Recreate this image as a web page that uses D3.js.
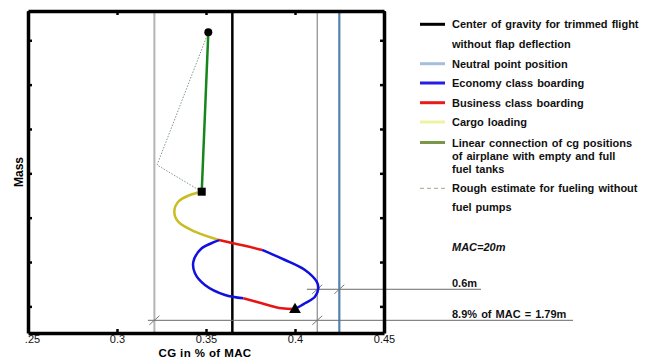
<!DOCTYPE html>
<html>
<head>
<meta charset="utf-8">
<script src="https://cdn.jsdelivr.net/npm/d3@7"></script>
<style>
  body { margin: 0; background: #fff; }
  svg { display: block; font-family: "Liberation Sans", Arial, sans-serif; }
  .lg { font-size: 11px; font-weight: bold; fill: #111; word-spacing: 1px; }
</style>
</head>
<body>
<script>
// values (cg as fraction of MAC, mass in t)
var cgTicks = [0.25, 0.3, 0.35, 0.4, 0.45];
var massTicks = [40, 45, 50, 55, 60, 65, 70];

var fwdCg = 0.321;      // light grey limit
var trimCg = 0.3648;    // cg for trimmed flight
var aftCg = 0.4125;     // thin grey limit
var neutralCg = 0.4249; // neutral point

var cargoLoading = [[0.3476, 52.93], [0.3410, 52.56], [0.3344, 51.80], [0.3322, 50.68], [0.3344, 49.55], [0.3438, 48.42], [0.3573, 47.48]];
var businessUpper = [[0.3573, 47.48], [0.3646, 47.15], [0.3725, 46.81], [0.3815, 46.36]];
var economyUpper = [[0.3815, 46.36], [0.3944, 45.23], [0.4056, 44.10], [0.4122, 42.78], [0.4131, 42.04], [0.4112, 41.09], [0.4056, 40.35], [0.4000, 39.70]];
var economyLower = [[0.3573, 47.48], [0.3551, 47.29], [0.3476, 46.55], [0.3429, 45.04], [0.3438, 43.73], [0.3494, 42.41], [0.3607, 41.28], [0.3710, 40.91]];
var businessLower = [[0.3710, 40.91], [0.3813, 40.35], [0.3925, 39.78], [0.4000, 39.70]];

var fuelLine = [[0.3476, 52.93], [0.3513, 70.9]];
var fuelEstimate = [[0.3513, 70.9], [0.3225, 55.94], [0.3476, 52.93]];

var emptyPoint = [0.4000, 39.70];
var zeroFuelPoint = [0.3476, 52.93];
var fullPoint = [0.3513, 70.9];

// dimension lines: mass level, from cg, to cg, tick marks
var dimShort = [41.93, 0.4067, 0.5045];
var dimShortTicks = [aftCg, neutralCg];
var dimLong = [38.43, 0.3174, 0.5562];
var dimLongTicks = [fwdCg, aftCg];

var legendLabels = [
    ["Center of gravity for trimmed flight", "without flap deflection"],
    ["Neutral point position"],
    ["Economy class boarding"],
    ["Business class boarding"],
    ["Cargo loading"],
    ["Linear connection of cg positions", "of airplane  with empty and full", "fuel tanks"],
    ["Rough estimate for fueling without", "fuel pumps"]
];
var noteLabels = ["MAC=20m", "0.6m", "8.9% of MAC = 1.79m"];

window.onload = function() {
    draw();
};

function draw() {
    var svg = d3.select("body").append("svg").attr("width", 651).attr("height", 359);

    var margin = {top: 11, left: 28};
    var w = 356, h = 322;

    var x = d3.scaleLinear().domain([0.25, 0.45]).range([margin.left, margin.left + w]);
    var y = d3.scaleLinear().domain([37, 73.3]).range([margin.top + h, margin.top]);

    var line = d3.line()
        .x(function(d) { return x(d[0]); })
        .y(function(d) { return y(d[1]); })
        .curve(d3.curveCatmullRom.alpha(0.5));
    var straight = d3.line()
        .x(function(d) { return x(d[0]); })
        .y(function(d) { return y(d[1]); });

    // reference verticals
    function vline(cg, col, sw) {
        svg.append("line")
            .attr("x1", x(cg)).attr("x2", x(cg))
            .attr("y1", margin.top).attr("y2", margin.top + h)
            .attr("stroke", col).attr("stroke-width", sw);
    }
    vline(fwdCg, "#b4b4b4", 2);
    vline(aftCg, "#8a8a8a", 1.2);
    vline(neutralCg, "#5282b0", 2.2);
    vline(trimCg, "#000", 2.5);

    // dimension lines
    function dim(d, ticks) {
        svg.append("line")
            .attr("x1", x(d[1])).attr("x2", x(d[2]))
            .attr("y1", y(d[0])).attr("y2", y(d[0]))
            .attr("stroke", "#6a6a6a").attr("stroke-width", 1);
        ticks.forEach(function(t) {
            svg.append("line")
                .attr("x1", x(t) - 5).attr("x2", x(t) + 5)
                .attr("y1", y(d[0]) + 4.5).attr("y2", y(d[0]) - 4.5)
                .attr("stroke", "#7a7a7a").attr("stroke-width", 1);
        });
    }
    dim(dimShort, dimShortTicks);
    dim(dimLong, dimLongTicks);

    // fuel estimate + fuel line
    svg.append("path").attr("d", straight(fuelEstimate))
        .attr("fill", "none").attr("stroke", "#7f9a80").attr("stroke-width", 1)
        .attr("stroke-dasharray", "1.5,1.5");
    svg.append("path").attr("d", straight(fuelLine))
        .attr("fill", "none").attr("stroke", "#17861a").attr("stroke-width", 2.5);

    // loading curves
    var curves = [
        [cargoLoading, "#c9bd22"],
        [economyUpper, "#1010e0"],
        [businessUpper, "#e81414"],
        [economyLower, "#1010e0"],
        [businessLower, "#e81414"]
    ];
    curves.forEach(function(c) {
        svg.append("path").attr("d", line(c[0]))
            .attr("fill", "none").attr("stroke", c[1]).attr("stroke-width", 2.5);
    });

    // markers
    svg.append("circle").attr("cx", x(fullPoint[0])).attr("cy", y(fullPoint[1])).attr("r", 4).attr("fill", "#000");
    svg.append("rect").attr("x", x(zeroFuelPoint[0]) - 4).attr("y", y(zeroFuelPoint[1]) - 4)
        .attr("width", 8).attr("height", 8).attr("fill", "#000");
    svg.append("path")
        .attr("d", d3.symbol().type(d3.symbolTriangle).size(60)())
        .attr("transform", "translate(" + x(emptyPoint[0]) + "," + (y(emptyPoint[1]) + 0.5) + ")")
        .attr("fill", "#000");

    // axes (frame with inner ticks)
    var ax = [
        d3.axisBottom(x).tickValues(cgTicks).tickSize(-4).tickSizeOuter(0).tickPadding(2)
            .tickFormat(function(d) { return d === 0.25 ? ".25" : d; }),
        d3.axisTop(x).tickValues(cgTicks).tickSize(-4).tickSizeOuter(0).tickFormat(""),
        d3.axisLeft(y).tickValues(massTicks).tickSize(-4).tickSizeOuter(0).tickFormat(""),
        d3.axisRight(y).tickValues(massTicks).tickSize(-4).tickSizeOuter(0).tickFormat("")
    ];
    var pos = [
        "translate(0," + (margin.top + h) + ")",
        "translate(0," + margin.top + ")",
        "translate(" + margin.left + ",0)",
        "translate(" + (margin.left + w) + ",0)"
    ];
    ax.forEach(function(a, i) {
        var g = svg.append("g").attr("transform", pos[i]).call(a);
        g.select(".domain").attr("stroke", "#000").attr("stroke-width", 3.5);
        g.selectAll(".tick line").attr("stroke", "#000").attr("stroke-width", 2.5);
        g.selectAll(".tick text").attr("font-size", 11).attr("font-family", "Liberation Sans, Arial").attr("fill", "#111");
    });
    svg.selectAll(".tick text").filter(function(d) { return d === 0.25; }).attr("dx", 4);

    // axis titles
    svg.append("text")
        .attr("x", 205).attr("y", 356.5)
        .attr("text-anchor", "middle")
        .attr("font-size", 11.5).attr("font-weight", "bold")
        .attr("letter-spacing", 0.4)
        .text("CG in % of MAC");
    svg.append("text")
        .attr("transform", "translate(23,172) rotate(-90)")
        .attr("text-anchor", "middle")
        .attr("font-size", 12).attr("font-weight", "bold")
        .text("Mass");

    // legend
    var lgCols = ["#000", "#a3bfdc", "#2020e6", "#e81c1c", "#eef3a4", "#7a9648", "#b3baa4"];
    var lgY = [24.3, 63.7, 83, 102.7, 122, 142.5, 188.3];
    var lineGap = [19.4, 19.4, 19.4, 19.4, 19.4, 13, 19];
    legendLabels.forEach(function(lines, i) {
        svg.append("line")
            .attr("x1", 420).attr("x2", 445)
            .attr("y1", lgY[i]).attr("y2", lgY[i])
            .attr("stroke", lgCols[i])
            .attr("stroke-dasharray", i === 6 ? "4,3" : null)
            .attr("stroke-width", i === 6 ? 1.2 : 3);
        lines.forEach(function(t, j) {
            svg.append("text").attr("class", "lg")
                .attr("x", 452).attr("y", lgY[i] + 4 + j * lineGap[i])
                .text(t);
        });
    });

    var noteY = [250.5, 286.5, 318];
    noteLabels.forEach(function(t, i) {
        svg.append("text").attr("class", "lg")
            .attr("x", 452).attr("y", noteY[i])
            .attr("font-style", i === 0 ? "italic" : null)
            .text(t);
    });
}
</script>
</body>
</html>
